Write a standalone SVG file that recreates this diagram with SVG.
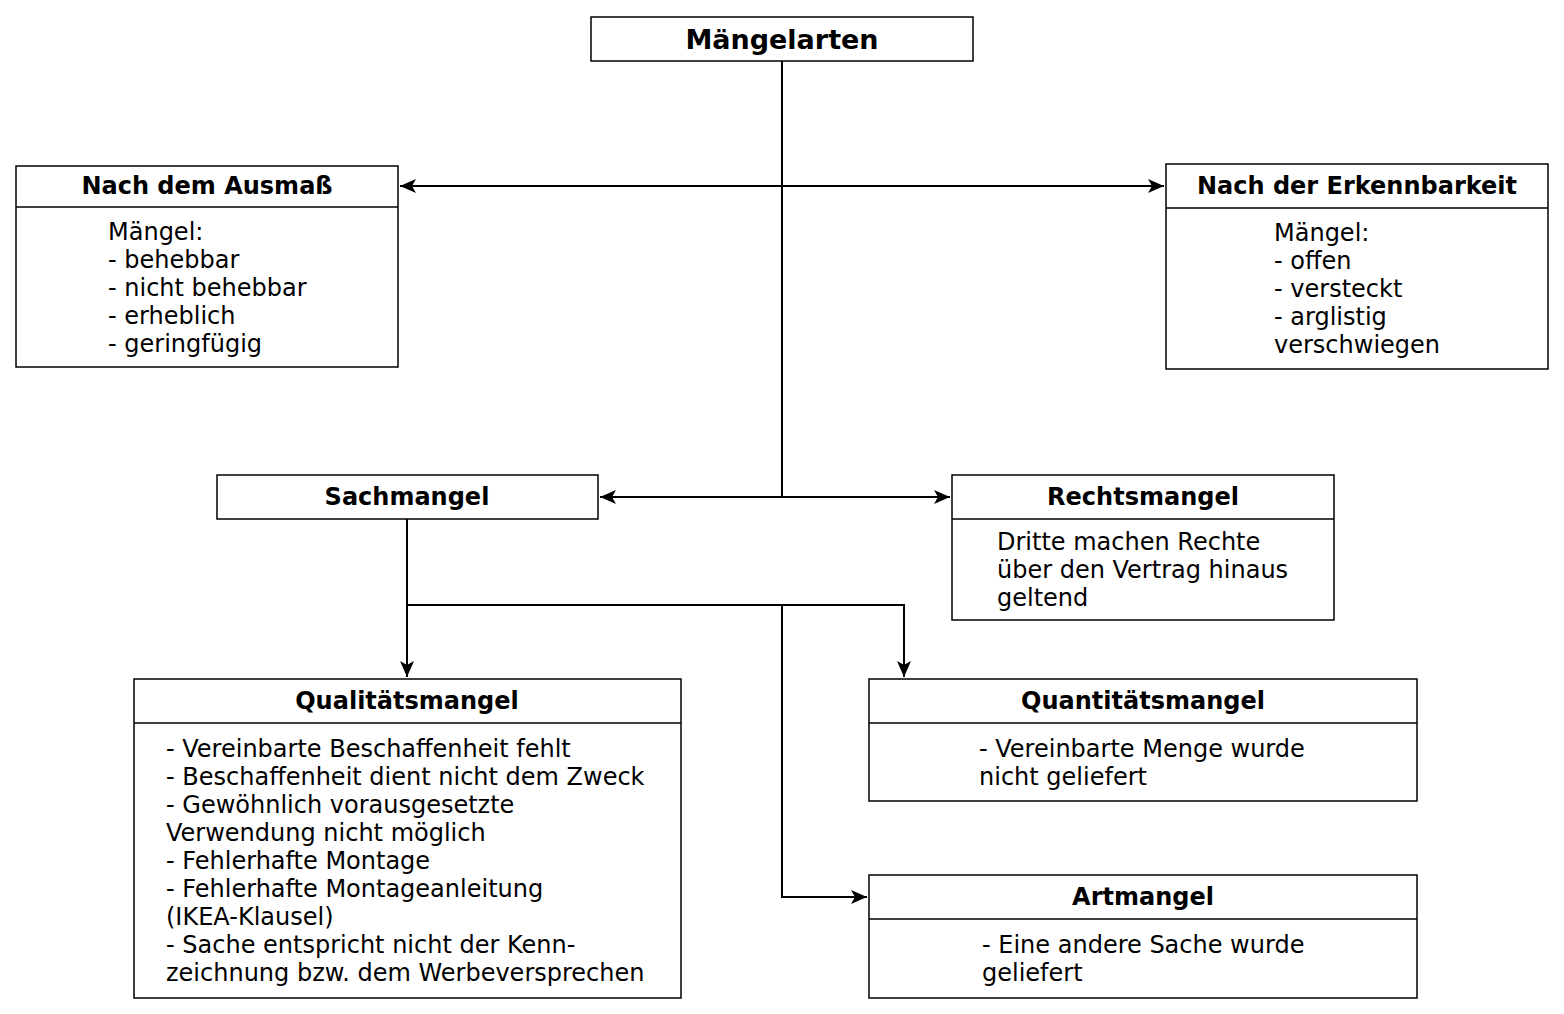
<svg xmlns="http://www.w3.org/2000/svg" width="1564" height="1014" viewBox="0 0 1564 1014">
<defs>
<style>
.box{fill:#fff;stroke:#000;stroke-width:1.5}
.div{stroke:#000;stroke-width:1.5}
.h{font-family:"DejaVu Sans",sans-serif;font-weight:bold;font-size:24px;text-anchor:middle;fill:#000}
.t{font-family:"DejaVu Sans",sans-serif;font-weight:bold;font-size:27px;text-anchor:middle;fill:#000}
.b{font-family:"DejaVu Sans",sans-serif;font-size:24px;fill:#000}
.c{fill:none;stroke:#000;stroke-width:2}
</style>
<marker id="arr" markerUnits="userSpaceOnUse" markerWidth="18" markerHeight="14" refX="16" refY="7" orient="auto">
<path d="M0,0 L16,7 L0,14 L4,7 Z" fill="#000"/>
</marker>
</defs>
<rect width="1564" height="1014" fill="#fff"/>
<g id="connectors">
<path class="c" d="M782,61 V497"/>
<path class="c" d="M782,186 H400" marker-end="url(#arr)"/>
<path class="c" d="M782,186 H1164" marker-end="url(#arr)"/>
<path class="c" d="M782,497 H600" marker-end="url(#arr)"/>
<path class="c" d="M782,497 H950" marker-end="url(#arr)"/>
<path class="c" d="M407,519 V677" marker-end="url(#arr)"/>
<path class="c" d="M407,605 H904 V677" marker-end="url(#arr)"/>
<path class="c" d="M782,605 V897 H867" marker-end="url(#arr)"/>
</g>
<g id="maengelarten">
<rect class="box" x="591" y="17" width="382" height="44"/>
<text class="t" x="782" y="49">Mängelarten</text>
</g>
<g id="ausmass">
<rect class="box" x="16" y="166" width="382" height="201"/>
<line class="div" x1="16" y1="207" x2="398" y2="207"/>
<text class="h" x="207" y="194">Nach dem Ausmaß</text>
<text class="b" x="108" y="240"><tspan x="108">Mängel:</tspan><tspan x="108" dy="28">- behebbar</tspan><tspan x="108" dy="28">- nicht behebbar</tspan><tspan x="108" dy="28">- erheblich</tspan><tspan x="108" dy="28">- geringfügig</tspan></text>
</g>
<g id="erkennbarkeit">
<rect class="box" x="1166" y="164" width="382" height="205"/>
<line class="div" x1="1166" y1="208" x2="1548" y2="208"/>
<text class="h" x="1357" y="194">Nach der Erkennbarkeit</text>
<text class="b" x="1274" y="241"><tspan x="1274">Mängel:</tspan><tspan x="1274" dy="28">- offen</tspan><tspan x="1274" dy="28">- versteckt</tspan><tspan x="1274" dy="28">- arglistig</tspan><tspan x="1274" dy="28">verschwiegen</tspan></text>
</g>
<g id="sachmangel">
<rect class="box" x="217" y="475" width="381" height="44"/>
<text class="h" x="407" y="505">Sachmangel</text>
</g>
<g id="rechtsmangel">
<rect class="box" x="952" y="475" width="382" height="145"/>
<line class="div" x1="952" y1="519" x2="1334" y2="519"/>
<text class="h" x="1143" y="505">Rechtsmangel</text>
<text class="b" x="997" y="550"><tspan x="997">Dritte machen Rechte</tspan><tspan x="997" dy="28">über den Vertrag hinaus</tspan><tspan x="997" dy="28">geltend</tspan></text>
</g>
<g id="qualitaetsmangel">
<rect class="box" x="134" y="679" width="547" height="319"/>
<line class="div" x1="134" y1="723" x2="681" y2="723"/>
<text class="h" x="407" y="709">Qualitätsmangel</text>
<text class="b" x="166" y="757"><tspan x="166">- Vereinbarte Beschaffenheit fehlt</tspan><tspan x="166" dy="28">- Beschaffenheit dient nicht dem Zweck</tspan><tspan x="166" dy="28">- Gewöhnlich vorausgesetzte</tspan><tspan x="166" dy="28">Verwendung nicht möglich</tspan><tspan x="166" dy="28">- Fehlerhafte Montage</tspan><tspan x="166" dy="28">- Fehlerhafte Montageanleitung</tspan><tspan x="166" dy="28">(IKEA-Klausel)</tspan><tspan x="166" dy="28">- Sache entspricht nicht der Kenn-</tspan><tspan x="166" dy="28">zeichnung bzw. dem Werbeversprechen</tspan></text>
</g>
<g id="quantitaetsmangel">
<rect class="box" x="869" y="679" width="548" height="122"/>
<line class="div" x1="869" y1="723" x2="1417" y2="723"/>
<text class="h" x="1143" y="709">Quantitätsmangel</text>
<text class="b" x="979" y="757"><tspan x="979">- Vereinbarte Menge wurde</tspan><tspan x="979" dy="28">nicht geliefert</tspan></text>
</g>
<g id="artmangel">
<rect class="box" x="869" y="875" width="548" height="123"/>
<line class="div" x1="869" y1="919" x2="1417" y2="919"/>
<text class="h" x="1143" y="905">Artmangel</text>
<text class="b" x="982" y="953"><tspan x="982">- Eine andere Sache wurde</tspan><tspan x="982" dy="28">geliefert</tspan></text>
</g>
</svg>
